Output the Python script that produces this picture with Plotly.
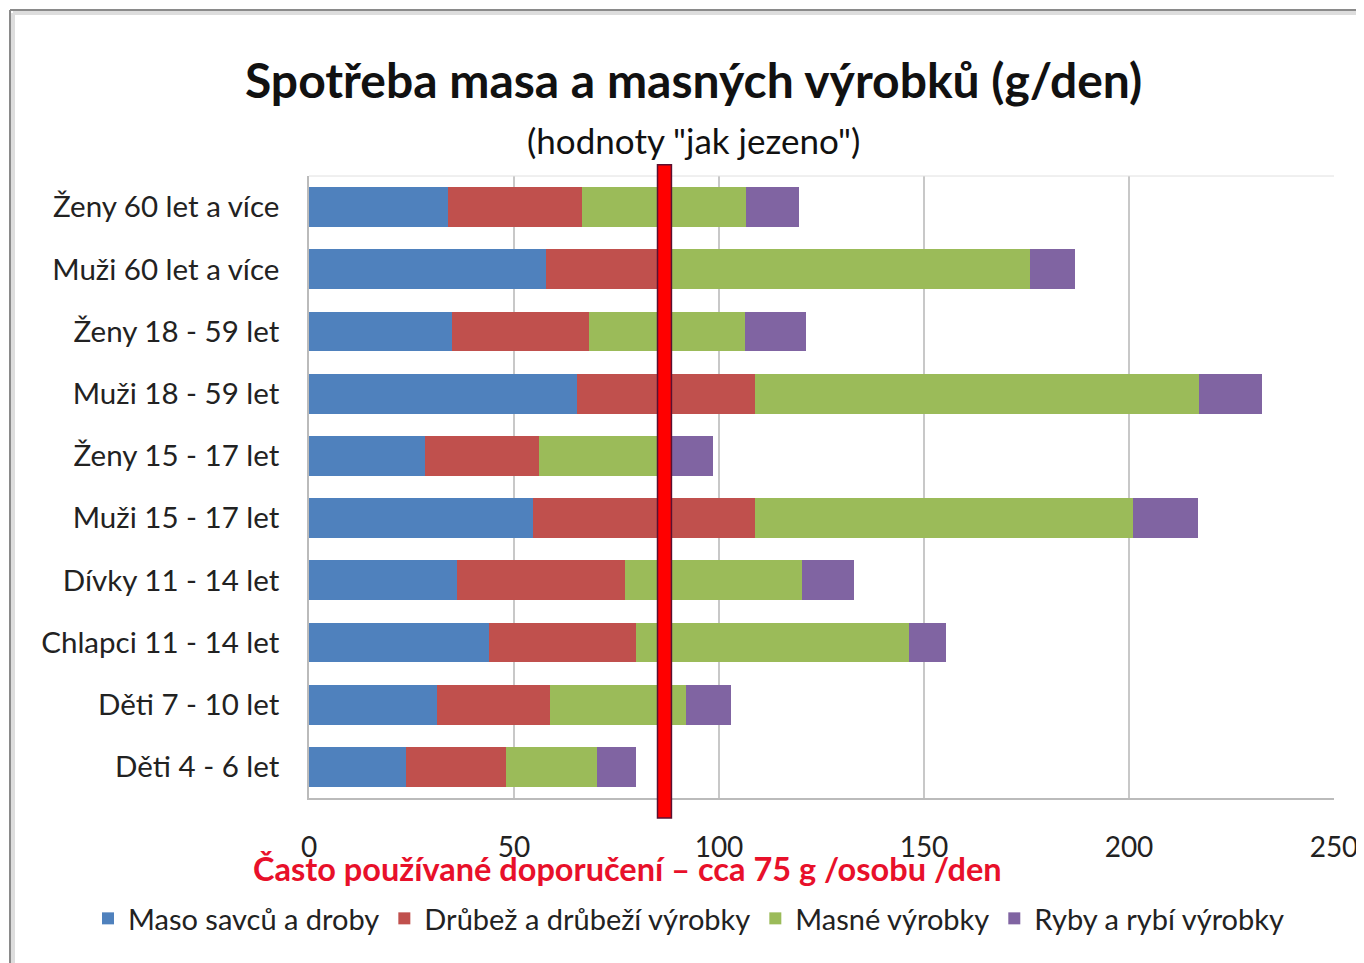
import plotly.graph_objects as go

categories = ["Ženy 60 let a více", "Muži 60 let a více", "Ženy 18 - 59 let", "Muži 18 - 59 let",
              "Ženy 15 - 17 let", "Muži 15 - 17 let", "Dívky 11 - 14 let", "Chlapci 11 - 14 let",
              "Děti 7 - 10 let", "Děti 4 - 6 let"]
maso_savcu = [33.8, 57.8, 34.8, 65.3, 28.3, 54.7, 36.0, 43.9, 31.1, 23.7]
drubez = [32.7, 27.0, 33.5, 43.5, 27.9, 54.2, 41.1, 35.9, 27.8, 24.3]
masne = [40.1, 91.0, 38.0, 108.2, 30.3, 92.1, 43.1, 66.5, 33.1, 22.2]
ryby = [12.9, 11.0, 15.0, 15.4, 12.0, 15.8, 12.7, 9.1, 10.9, 9.6]
series_names = ["Maso savců a droby", "Drůbež a drůbeží výrobky", "Masné výrobky", "Ryby a rybí výrobky"]
colors = ["#4F81BD", "#C0504D", "#9BBB59", "#8064A2"]
doporuceni_line = 86.7
x_ticks = [0, 50, 100, 150, 200, 250]

FONT = "Lato"

fig = go.Figure()
for name, vals, col in zip(series_names, [maso_savcu, drubez, masne, ryby], colors):
    fig.add_trace(go.Bar(y=categories, x=vals, name=name, orientation="h",
                         marker=dict(color=col, line=dict(width=0))))

# page has an 8px body margin; figure is 1356x955 so plot area sits at page x 309-1334, y 176-798
fig.update_layout(
    width=1356, height=955,
    barmode="stack", bargap=0.36,
    paper_bgcolor="white", plot_bgcolor="white",
    margin=dict(l=301, r=30, t=168, b=165, autoexpand=False),
    font=dict(family=FONT, size=28, color="#222"),
    showlegend=True,
    legend=dict(orientation="h", xref="paper", x=(88 - 309) / 1025, xanchor="left",
                yref="paper", y=(798 - 893) / 622, yanchor="top",
                font=dict(family=FONT, size=29, color="#222"), traceorder="normal",
                itemwidth=30, bgcolor="rgba(0,0,0,0)"),
    xaxis=dict(range=[0, 250], tickvals=x_ticks, showgrid=True, gridcolor="#c8c8c8", gridwidth=1.5,
               showline=True, linecolor="#bbbbbb", linewidth=1.5, zeroline=False, automargin=False,
               ticks="", ticklabelstandoff=24, tickfont=dict(family=FONT, size=28, color="#222")),
    yaxis=dict(categoryorder="array", categoryarray=categories[::-1], showline=True, automargin=False,
               linecolor="#bbbbbb", linewidth=1.5, ticks="", ticklabelstandoff=22,
               tickfont=dict(family=FONT, size=29.5, color="#222")),
)

# thin top border of plot
fig.add_shape(type="line", xref="paper", yref="paper", x0=0, x1=1, y0=1, y1=1,
              line=dict(color="#e0e0e0", width=1))

# recommendation line
fig.add_shape(type="rect", xref="x", yref="paper", x0=doporuceni_line - 1.7, x1=doporuceni_line + 1.7,
              y0=-0.032, y1=1.018, fillcolor="#ff0000", line=dict(color="#5a1030", width=1.5),
              layer="above")

# frame (with a soft shadow)
fx = (10 - 309) / 1025
fy = (798 - 10) / 622
fig.add_shape(type="line", xref="paper", yref="paper", x0=fx + 3 / 1025, x1=fx + 3 / 1025, y0=fy - 3 / 622, y1=-0.3,
              line=dict(color="#dddddd", width=4))
fig.add_shape(type="line", xref="paper", yref="paper", x0=fx + 3 / 1025, x1=1.04, y0=fy - 3 / 622, y1=fy - 3 / 622,
              line=dict(color="#dddddd", width=4))
fig.add_shape(type="line", xref="paper", yref="paper", x0=fx, x1=fx, y0=fy, y1=-0.3,
              line=dict(color="#8a8a8a", width=2))
fig.add_shape(type="line", xref="paper", yref="paper", x0=fx, x1=1.04, y0=fy, y1=fy,
              line=dict(color="#8a8a8a", width=2))

fig.add_annotation(text="<b>Spotřeba masa a masných výrobků (g/den)</b>", xref="paper", yref="paper",
                   x=(693 - 309) / 1025, y=(798 - 80) / 622, xanchor="center", yanchor="middle", showarrow=False,
                   font=dict(family=FONT, size=48, color="#111"))
fig.add_annotation(text="(hodnoty \"jak jezeno\")", xref="paper", yref="paper",
                   x=(693 - 309) / 1025, y=(798 - 140) / 622, xanchor="center", yanchor="middle", showarrow=False,
                   font=dict(family=FONT, size=35, color="#111"))
fig.add_annotation(text="<b>Často používané doporučení – cca 75 g /osobu /den</b>", xref="paper", yref="paper",
                   x=(627 - 309) / 1025, y=(798 - 868) / 622, xanchor="center", yanchor="middle",
                   showarrow=False, font=dict(family=FONT, size=32.5, color="#e8102a"))

fig.write_html("out.html")
